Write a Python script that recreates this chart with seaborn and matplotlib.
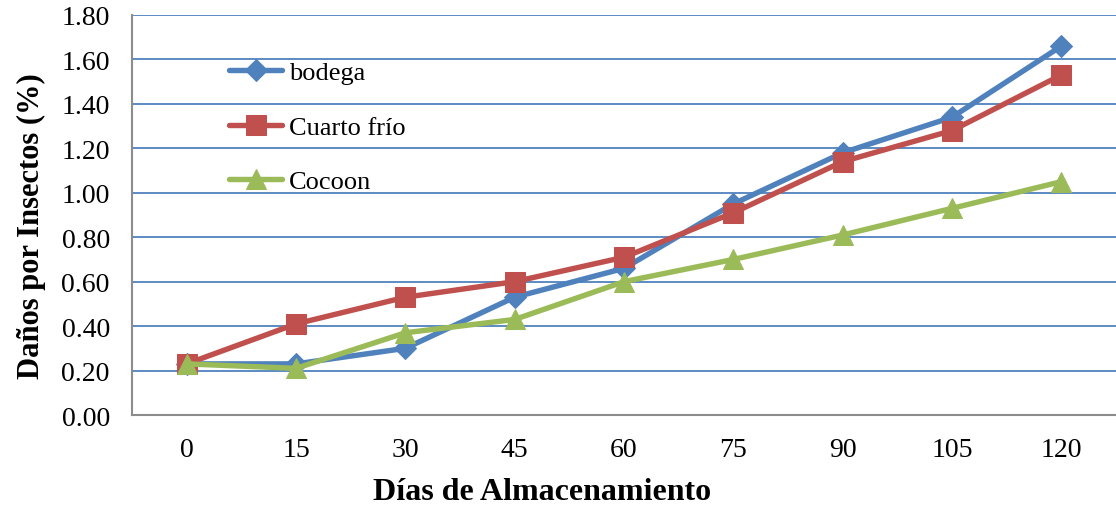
import matplotlib
matplotlib.use("Agg")
import matplotlib.pyplot as plt
import seaborn as sns
import pandas as pd

dias = [0, 15, 30, 45, 60, 75, 90, 105, 120]
bodega = [0.23, 0.23, 0.30, 0.53, 0.66, 0.95, 1.18, 1.34, 1.66]
cuarto_frio = [0.23, 0.41, 0.53, 0.60, 0.71, 0.91, 1.14, 1.28, 1.53]
cocoon = [0.23, 0.21, 0.37, 0.43, 0.60, 0.70, 0.81, 0.93, 1.05]
series_names = ["bodega", "Cuarto frío", "Cocoon"]
y_ticks = [0.0, 0.2, 0.4, 0.6, 0.8, 1.0, 1.2, 1.4, 1.6, 1.8]

sns.set_theme(style="white")
plt.rcParams["font.family"] = ["Liberation Serif", "DejaVu Serif"]
for key in ["text.color", "axes.labelcolor", "xtick.color", "ytick.color"]:
    plt.rcParams[key] = "black"

df = pd.DataFrame({
    "pos": list(range(len(dias))) * 3,
    "valor": bodega + cuarto_frio + cocoon,
    "serie": [series_names[0]] * len(dias) + [series_names[1]] * len(dias)
             + [series_names[2]] * len(dias),
})

palette = {"bodega": "#4F81BD", "Cuarto frío": "#C0504D", "Cocoon": "#9BBB59"}
markers = {"bodega": "D", "Cuarto frío": "s", "Cocoon": "^"}
msizes = {"bodega": 11, "Cuarto frío": 14, "Cocoon": 14}

fig = plt.figure(figsize=(11.16, 5.06), dpi=100)
ax = fig.add_axes([132 / 1116, 1 - 416 / 506, 1 - 132 / 1116, 400 / 506])

for name in series_names:
    sub = df[df["serie"] == name]
    sns.lineplot(data=sub, x="pos", y="valor", ax=ax, color=palette[name],
                 marker=markers[name], markersize=msizes[name],
                 markeredgecolor=palette[name], linewidth=3.9, label=name,
                 solid_capstyle="round")

ax.set_xlim(-0.5, len(dias) - 0.5)
ax.set_ylim(0, 1.8)
ax.set_yticks(y_ticks)
ax.set_yticklabels([f"{v:.2f}" for v in y_ticks], fontsize=20)
ax.set_xticks(range(len(dias)))
ax.set_xticklabels([str(d) for d in dias], fontsize=20)
ax.tick_params(axis="both", length=0)
ax.tick_params(axis="x", pad=16)
ax.tick_params(axis="y", pad=16)
ax.yaxis.grid(True, color="#4F81BD", linewidth=1.3)
ax.set_axisbelow(True)
for side in ["top", "right"]:
    ax.spines[side].set_visible(False)
for side in ["left", "bottom"]:
    ax.spines[side].set_color("#8C8C8C")
    ax.spines[side].set_linewidth(1.5)

ax.set_xlabel("Días de Almacenamiento", fontsize=23, fontweight="bold")
ax.set_ylabel("Daños por Insectos (%)", fontsize=22, fontweight="bold")
ax.xaxis.set_label_coords((542 - 132) / 984, -(492 - 416) / 400, transform=ax.transAxes)
ax.yaxis.set_label_coords(-(132 - 31) / 984, 0.475, transform=ax.transAxes)
ax.xaxis.label.set_va("center")
ax.yaxis.label.set_va("center")

ax.legend(loc="upper left", bbox_to_anchor=(0.099, 0.885), frameon=False,
          fontsize=19, handlelength=2.0, handletextpad=0.25,
          labelspacing=1.17, borderaxespad=0, borderpad=0)

fig.savefig("out.png", dpi=100)
